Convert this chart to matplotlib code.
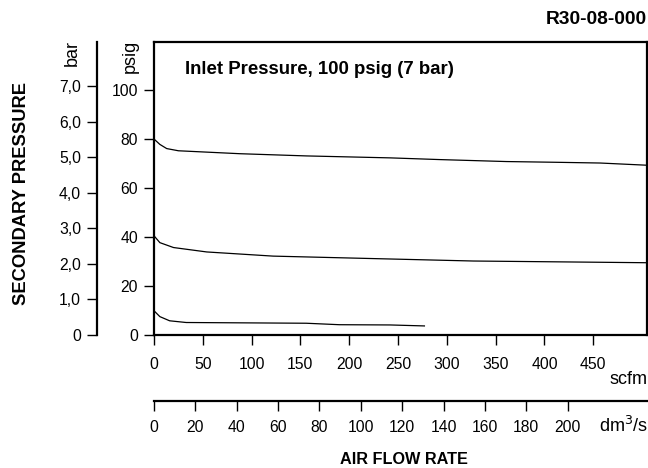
import matplotlib
matplotlib.use('Agg')
import matplotlib.pyplot as plt

plt.rcParams['font.family'] = ['Liberation Sans', 'DejaVu Sans']

# curves: flow (scfm) vs secondary pressure (psig)
flow_80 = [0, 6, 13, 25, 88, 156, 242, 293, 361, 412, 457, 505]
psig_80 = [80, 77.8, 76.1, 75.2, 74.0, 73.1, 72.3, 71.6, 70.8, 70.5, 70.2, 69.3]
flow_40 = [0, 6, 20, 54, 122, 224, 327, 429, 505]
psig_40 = [40.5, 37.7, 35.7, 33.9, 32.2, 31.2, 30.2, 29.8, 29.5]
flow_10 = [0, 6, 16, 33, 156, 190, 242, 277]
psig_10 = [9.9, 7.5, 5.8, 5.1, 4.8, 4.2, 4.1, 3.7]

scfm_ticks = [0, 50, 100, 150, 200, 250, 300, 350, 400, 450]
psig_ticks = [0, 20, 40, 60, 80, 100]
bar_ticks = [0, 1, 2, 3, 4, 5, 6, 7]
bar_labels = ['0', '1,0', '2,0', '3,0', '4,0', '5,0', '6,0', '7,0']
dm3_ticks = [0, 20, 40, 60, 80, 100, 120, 140, 160, 180, 200]

PSI_PER_BAR = 14.5038
DM3_PER_SCFM = 0.4719
xmax = 505
ymax = 119.6

TICK_FS = 11.3
UNIT_FS = 13
W, H = 648, 468
fig = plt.figure(figsize=(W / 100, H / 100), dpi=100)

L, R, B, T = 154 / W, 647 / W, 1 - 335 / H, 1 - 42 / H
ax = fig.add_axes([L, B, R - L, T - B])
for fl, ps in [(flow_80, psig_80), (flow_40, psig_40), (flow_10, psig_10)]:
    ax.plot(fl, ps, color='black', lw=0.9)
ax.set_xlim(0, xmax)
ax.set_ylim(0, ymax)
ax.set_xticks(scfm_ticks)
ax.set_yticks(psig_ticks)
for s in ax.spines.values():
    s.set_linewidth(1.6)
ax.tick_params(direction='out', length=7.5, width=1, labelsize=TICK_FS, pad=4)
ax.tick_params(axis='x', pad=8)
ax.text(185 / W, 1 - 69 / H, 'Inlet Pressure, 100 psig (7 bar)', transform=fig.transFigure,
        fontsize=13.4, fontweight='bold', va='center', ha='left')

# bar axis
axb = fig.add_axes([97 / W, B, 0.001, T - B])
axb.set_ylim(0, ymax / PSI_PER_BAR)
axb.set_yticks(bar_ticks)
axb.set_yticklabels(bar_labels)
axb.set_xticks([])
for k in ['top', 'right', 'bottom']:
    axb.spines[k].set_visible(False)
axb.spines['left'].set_linewidth(1.6)
axb.patch.set_visible(False)
axb.tick_params(axis='y', direction='out', length=7.5, width=1, labelsize=TICK_FS, pad=4)

# dm3/s axis
axd = fig.add_axes([L, 1 - 401 / H, (W - 154) / W, 0.0001])
axd.set_xlim(0, xmax * DM3_PER_SCFM * (W - 154) / (647 - 154))
axd.set_xticks(dm3_ticks)
axd.set_yticks([])
for k in ['top', 'right', 'left']:
    axd.spines[k].set_visible(False)
axd.spines['bottom'].set_linewidth(1.6)
axd.patch.set_visible(False)
axd.tick_params(axis='x', direction='out', length=7.5, width=1, labelsize=TICK_FS, pad=6)

fig.text(648 / W, 1 - 380 / H, 'scfm', fontsize=UNIT_FS, ha='right', va='center')
fig.text(648 / W, 1 - 432 / H, 'dm$^3$/s', fontsize=UNIT_FS, ha='right', va='baseline')
fig.text(72.5 / W, 1 - 53 / H, 'bar', fontsize=UNIT_FS, rotation=90, ha='center', va='center')
fig.text(130 / W, 1 - 56 / H, 'psig', fontsize=UNIT_FS, rotation=90, ha='center', va='center')
fig.text(22 / W, 1 - 193.5 / H, 'SECONDARY PRESSURE', fontsize=13.2, fontweight='bold',
         rotation=90, ha='center', va='center')
fig.text(647 / W, 1 - 19.5 / H, 'R30-08-000', fontsize=13.8, fontweight='bold',
         ha='right', va='center')
fig.text(404 / W, 1 - 459 / H, 'AIR FLOW RATE', fontsize=11.7, fontweight='bold',
         ha='center', va='center')

fig.savefig('out.png', dpi=100)
